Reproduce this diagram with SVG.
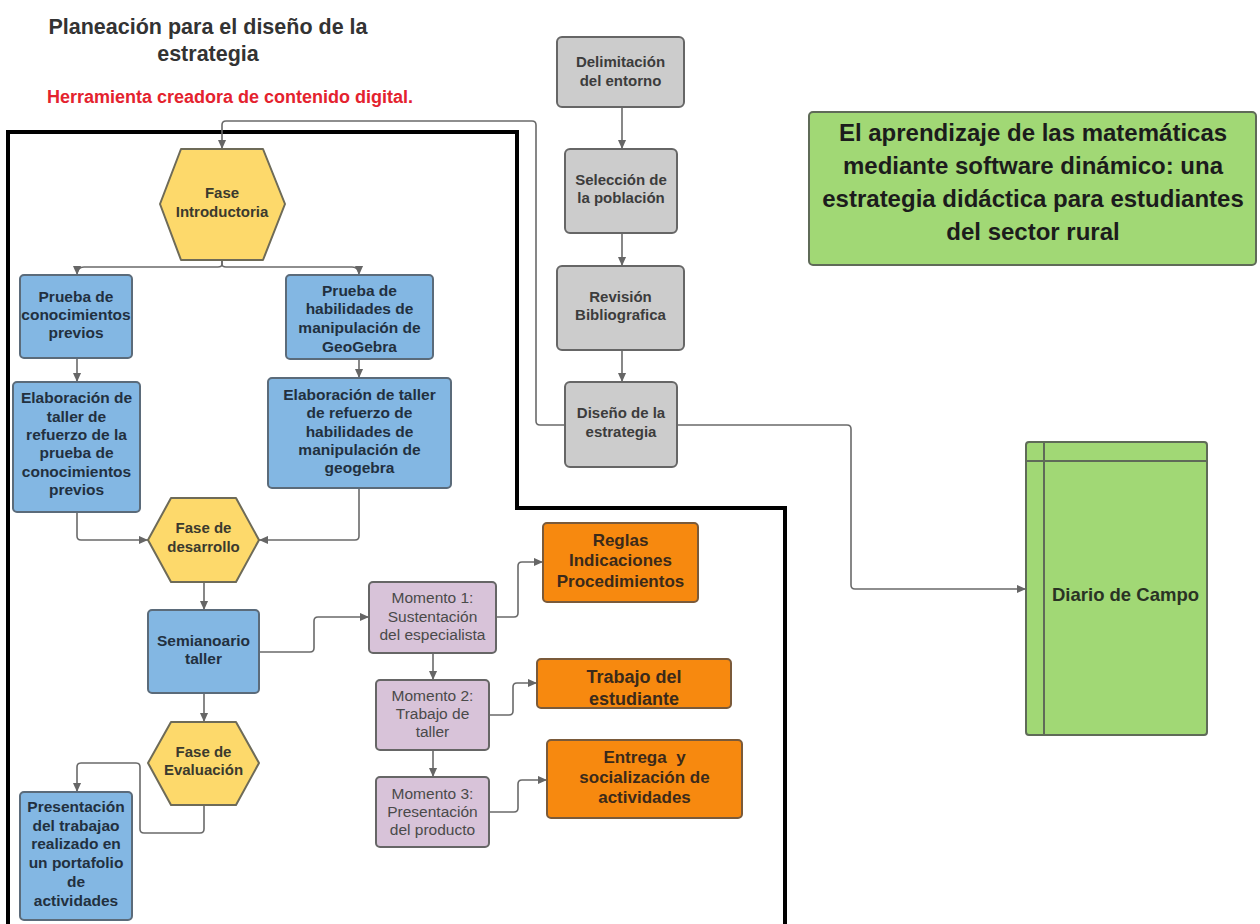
<svg xmlns="http://www.w3.org/2000/svg" width="1260" height="924" viewBox="0 0 1260 924">
<defs>
<marker id="arr" viewBox="0 0 10 10" refX="10" refY="5" markerWidth="10" markerHeight="9" markerUnits="userSpaceOnUse" orient="auto">
<path d="M0,0.5 L10,5 L0,9.5 z" fill="#666"/>
</marker>
<style>
text{font-family:"Liberation Sans",Arial,sans-serif;text-anchor:middle}
.b{font-weight:bold;font-size:15px}
.blue{fill:#83b7e3;stroke:#5b6b7a;stroke-width:2}
.hex{fill:#fdd96b;stroke:#6e6b58;stroke-width:2;stroke-linejoin:round}
.gray{fill:#cccccc;stroke:#666;stroke-width:2}
.purp{fill:#d8c3d9;stroke:#666;stroke-width:2}
.orng{fill:#f7890f;stroke:#7a5a3a;stroke-width:2}
.grn{fill:#a1d875;stroke:#5f6b58;stroke-width:2}
.tb{fill:#22303f;font-size:15.5px}
.th{fill:#3b3a2e}
.tg{fill:#3c3c3c}
.tp{fill:#4a4a4a;font-size:15.5px}
.to{fill:#3b2a1a;font-weight:bold;font-size:17px}
.con path{fill:none;stroke:#6a6a6a;stroke-width:1.6;marker-end:url(#arr)}
</style>
</defs>
<rect width="1260" height="924" fill="#fff"/>

<g id="titles">
<text x="208" y="34" style="font-weight:bold;font-size:21.5px;fill:#333">Planeación para el diseño de la</text>
<text x="208" y="61" style="font-weight:bold;font-size:21.5px;fill:#333">estrategia</text>
<text x="230" y="103" style="font-weight:bold;font-size:18px;fill:#e4222e">Herramienta creadora de contenido digital.</text>
</g>

<path id="outline" d="M8,926 V132 H517 V508 H785 V926" fill="none" stroke="#000" stroke-width="4"/>

<g class="con" id="connectors">
<path d="M622,107 V149"/>
<path d="M622,233 V266"/>
<path d="M622,350 V382"/>
<path d="M565,425 H540 Q536,425 536,421 V125 Q536,121 532,121 H226 Q222,121 222,125 V149"/>
<path d="M677,425 H847 Q851,425 851,429 V585 Q851,589 855,589 H1026"/>
<path d="M222,260 V264 Q222,267 218,267 H84 Q77,267 77,275"/>
<path d="M222,260 V264 Q222,267 226,267 H352 Q359,267 359,275"/>
<path d="M77,358 V382"/>
<path d="M359,359 V378"/>
<path d="M77,512 V536 Q77,540 81,540 H148"/>
<path d="M359,488 V536 Q359,540 355,540 H259"/>
<path d="M204,582 V610"/>
<path d="M259,652 H310 Q314,652 314,648 V621 Q314,617 318,617 H369"/>
<path d="M204,693 V722"/>
<path d="M204,805 V829 Q204,833 200,833 H144 Q140,833 140,829 V767 Q140,763 136,763 H81 Q77,763 77,767 V792"/>
<path d="M433,653 V680"/>
<path d="M433,750 V777"/>
<path d="M496,617 H514 Q518,617 518,613 V566 Q518,562 522,562 H543"/>
<path d="M489,715 H509 Q513,715 513,711 V687 Q513,683 517,683 H537"/>
<path d="M489,812 H514 Q518,812 518,808 V784 Q518,780 522,780 H547"/>
</g>

<g id="n-delimitacion">
<rect class="gray" x="557" y="37" width="127" height="70" rx="5"/>
<text class="b tg" x="620.5" y="67">Delimitación</text>
<text class="b tg" x="620.5" y="86">del entorno</text>
</g>
<g id="n-seleccion">
<rect class="gray" x="565" y="149" width="112" height="84" rx="5"/>
<text class="b tg" x="621" y="185">Selección de</text>
<text class="b tg" x="621" y="203">la población</text>
</g>
<g id="n-revision">
<rect class="gray" x="557" y="266" width="127" height="84" rx="5"/>
<text class="b tg" x="620.5" y="302">Revisión</text>
<text class="b tg" x="620.5" y="320">Bibliografica</text>
</g>
<g id="n-diseno">
<rect class="gray" x="565" y="382" width="112" height="85" rx="5"/>
<text class="b tg" x="621" y="418">Diseño de la</text>
<text class="b tg" x="621" y="437">estrategia</text>
</g>

<g id="n-titulo">
<rect class="grn" x="809" y="112" width="447" height="153" rx="4"/>
<text x="1033" y="141" style="font-weight:bold;font-size:24px;fill:#1c1c1c">El aprendizaje de las matemáticas</text>
<text x="1033" y="174" style="font-weight:bold;font-size:24px;fill:#1c1c1c">mediante software dinámico: una</text>
<text x="1033" y="207" style="font-weight:bold;font-size:24px;fill:#1c1c1c">estrategia didáctica para estudiantes</text>
<text x="1033" y="240" style="font-weight:bold;font-size:24px;fill:#1c1c1c">del sector rural</text>
</g>

<g id="n-diario">
<rect class="grn" x="1026" y="442" width="181" height="293" rx="3"/>
<path d="M1044,442 V735 M1026,461 H1207" stroke="#5f6b58" stroke-width="2" fill="none"/>
<text x="1125.5" y="601" style="font-weight:bold;font-size:18.5px;fill:#2a3324">Diario de Campo</text>
</g>

<g id="n-fase-intro">
<polygon class="hex" points="181,149 263,149 285,204 263,260 181,260 160,204"/>
<text class="b th" x="222" y="198">Fase</text>
<text class="b th" x="222" y="217">Introductoria</text>
</g>
<g id="n-prueba-conoc">
<rect class="blue" x="20" y="275" width="112" height="83" rx="4"/>
<text class="b tb" x="76" y="302">Prueba de</text>
<text class="b tb" x="76" y="320">conocimientos</text>
<text class="b tb" x="76" y="338">previos</text>
</g>
<g id="n-prueba-habil">
<rect class="blue" x="286" y="275" width="147" height="84" rx="4"/>
<text class="b tb" x="359.5" y="296">Prueba de</text>
<text class="b tb" x="359.5" y="314">habilidades de</text>
<text class="b tb" x="359.5" y="333">manipulación de</text>
<text class="b tb" x="359.5" y="352">GeoGebra</text>
</g>
<g id="n-taller-conoc">
<rect class="blue" x="13" y="382" width="127" height="130" rx="4"/>
<text class="b tb" x="76.5" y="403">Elaboración de</text>
<text class="b tb" x="76.5" y="422">taller de</text>
<text class="b tb" x="76.5" y="440">refuerzo de la</text>
<text class="b tb" x="76.5" y="458">prueba de</text>
<text class="b tb" x="76.5" y="477">conocimientos</text>
<text class="b tb" x="76.5" y="495">previos</text>
</g>
<g id="n-taller-habil">
<rect class="blue" x="268" y="378" width="183" height="110" rx="4"/>
<text class="b tb" x="359.5" y="400">Elaboración de taller</text>
<text class="b tb" x="359.5" y="418">de refuerzo de</text>
<text class="b tb" x="359.5" y="437">habilidades de</text>
<text class="b tb" x="359.5" y="455">manipulación de</text>
<text class="b tb" x="359.5" y="473">geogebra</text>
</g>
<g id="n-fase-desarrollo">
<polygon class="hex" points="171,498 236,498 259,540 236,582 171,582 148,540"/>
<text class="b th" x="203.5" y="533">Fase de</text>
<text class="b th" x="203.5" y="552">desarrollo</text>
</g>
<g id="n-seminario">
<rect class="blue" x="148" y="610" width="111" height="83" rx="4"/>
<text class="b tb" x="203.5" y="646">Semianoario</text>
<text class="b tb" x="203.5" y="664">taller</text>
</g>
<g id="n-fase-eval">
<polygon class="hex" points="171,722 236,722 259,763 236,805 171,805 148,763"/>
<text class="b th" x="203.5" y="757">Fase de</text>
<text class="b th" x="203.5" y="775">Evaluación</text>
</g>
<g id="n-presentacion">
<rect class="blue" x="20" y="792" width="112" height="128" rx="4"/>
<text class="b tb" x="76" y="812">Presentación</text>
<text class="b tb" x="76" y="831">del trabajao</text>
<text class="b tb" x="76" y="849">realizado en</text>
<text class="b tb" x="76" y="868">un portafolio</text>
<text class="b tb" x="76" y="887">de</text>
<text class="b tb" x="76" y="906">actividades</text>
</g>

<g id="n-momento1">
<rect class="purp" x="369" y="582" width="127" height="71" rx="4"/>
<text class="tp" x="432.5" y="603">Momento 1:</text>
<text class="tp" x="432.5" y="622">Sustentación</text>
<text class="tp" x="432.5" y="640">del especialista</text>
</g>
<g id="n-momento2">
<rect class="purp" x="376" y="680" width="113" height="70" rx="4"/>
<text class="tp" x="432.5" y="701">Momento 2:</text>
<text class="tp" x="432.5" y="719">Trabajo de</text>
<text class="tp" x="432.5" y="737">taller</text>
</g>
<g id="n-momento3">
<rect class="purp" x="376" y="777" width="113" height="70" rx="4"/>
<text class="tp" x="432.5" y="799">Momento 3:</text>
<text class="tp" x="432.5" y="817">Presentación</text>
<text class="tp" x="432.5" y="835">del producto</text>
</g>

<g id="n-reglas">
<rect class="orng" x="543" y="523" width="155" height="79" rx="4"/>
<text class="to" x="620.5" y="546">Reglas</text>
<text class="to" x="620.5" y="566">Indicaciones</text>
<text class="to" x="620.5" y="587">Procedimientos</text>
</g>
<g id="n-trabajo">
<rect class="orng" x="537" y="659" width="194" height="49" rx="4"/>
<text class="to" x="634" y="683" style="font-size:18px">Trabajo del</text>
<text class="to" x="634" y="705" style="font-size:18px">estudiante</text>
</g>
<g id="n-entrega">
<rect class="orng" x="547" y="740" width="195" height="78" rx="4"/>
<text class="to" x="644.5" y="763" xml:space="preserve">Entrega  y</text>
<text class="to" x="644.5" y="783">socialización de</text>
<text class="to" x="644.5" y="803">actividades</text>
</g>
</svg>
